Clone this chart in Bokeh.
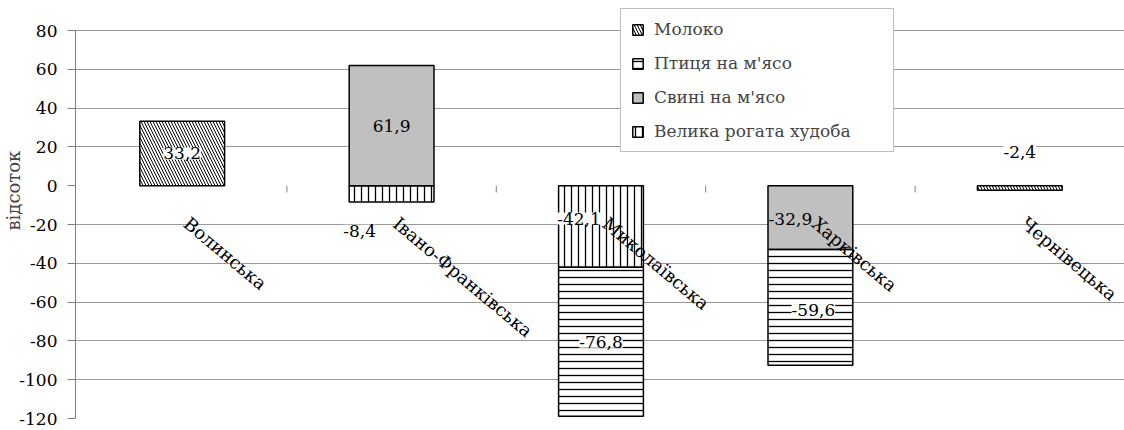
import math
from bokeh.plotting import figure
from bokeh.models import Range1d, FixedTicker, Legend, LegendItem, ColumnDataSource
from bokeh.core.properties import value
from bokeh.embed import file_html
from bokeh.resources import INLINE

# ---------------- data ----------------
regions = ["Волинська", "Івано-Франківська", "Миколаївська", "Харківська", "Чернівецька"]
series_names = ["Велика рогата худоба", "Свині на м'ясо", "Птиця на м'ясо", "Молоко"]  # stacking order
vrh = [0, -8.4, -42.1, 0, 0]          # Велика рогата худоба
svyni = [0, 61.9, 0, -32.9, 0]         # Свині на м'ясо
ptytsia = [0, 0, -76.8, -59.6, 0]      # Птиця на м'ясо
moloko = [33.2, 0, 0, 0, -2.4]         # Молоко
y_ticks = [-120, -100, -80, -60, -40, -20, 0, 20, 40, 60, 80]
legend_order = ["Молоко", "Птиця на м'ясо", "Свині на м'ясо", "Велика рогата худоба"]
y_title = "відсоток"

# ---------------- styles ----------------
FONT = "DejaVu Serif"
FS = "17px"
styles = {
    "Велика рогата худоба": dict(fill_color="white", hatch_pattern="|", hatch_scale=7, hatch_weight=1.3),
    "Свині на м'ясо": dict(fill_color="#c0c0c0", hatch_pattern=None, hatch_scale=7, hatch_weight=1),
    "Птиця на м'ясо": dict(fill_color="white", hatch_pattern="-", hatch_scale=7, hatch_weight=1.3),
    "Молоко": dict(fill_color="white", hatch_pattern="\\", hatch_scale=6, hatch_weight=1),
}
label_offsets = {
    ("Велика рогата худоба", 1): (-32, 37),
    ("Велика рогата худоба", 2): (-22, -8),
    ("Свині на м'ясо", 3): (-20, 1),
    ("Птиця на м'ясо", 3): (3, 3),
    ("Молоко", 4): (0, -36),
}

values = {"Велика рогата худоба": vrh, "Свині на м'ясо": svyni,
          "Птиця на м'ясо": ptytsia, "Молоко": moloko}

W, H = 1124, 430
TOP_PX, BOT_PX = 30, 418          # pixel rows of 80 and -120
FRAME_TOP = 8
k = (BOT_PX - TOP_PX) / (y_ticks[-1] - y_ticks[0])
y_top = y_ticks[-1] + (TOP_PX - FRAME_TOP) / k

p = figure(width=W, height=H, output_backend="svg", toolbar_location=None,
           x_range=Range1d(-0.5095, 4.5), y_range=Range1d(y_ticks[0], y_top),
           min_border_left=73, min_border_right=0, min_border_top=FRAME_TOP,
           min_border_bottom=H - BOT_PX)
p.outline_line_color = None
p.background_fill_color = "white"

pos = [0.0] * len(regions)
neg = [0.0] * len(regions)
renderers = {}
lab_plain = dict(x=[], y=[], text=[], dx=[], dy=[])
lab_white = dict(x=[], y=[], text=[], dx=[], dy=[])
for name in series_names:
    vals = values[name]
    xs, bots, tops = [], [], []
    for i, v in enumerate(vals):
        if v == 0:
            continue
        if v > 0:
            b, t = pos[i], pos[i] + v
            pos[i] = t
        else:
            t, b = neg[i], neg[i] + v
            neg[i] = b
        xs.append(i); bots.append(b); tops.append(t)
        dx, dy = label_offsets.get((name, i), (0, 0))
        tgt = lab_plain if name == "Свині на м'ясо" else lab_white
        tgt["x"].append(i); tgt["y"].append((b + t) / 2)
        tgt["text"].append(f"{v:.1f}".replace(".", ","))
        tgt["dx"].append(dx); tgt["dy"].append(dy)
    st = styles[name]
    kw = dict(fill_color=st["fill_color"], line_color="black", line_width=1.5)
    if st["hatch_pattern"]:
        kw.update(hatch_pattern=st["hatch_pattern"], hatch_scale=st["hatch_scale"],
                  hatch_color="black", hatch_weight=st["hatch_weight"])
    r = p.vbar(x=xs, bottom=bots, top=tops, width=0.405, **kw)
    renderers[name] = r

p.xgrid.visible = False
p.ygrid.ticker = FixedTicker(ticks=[t for t in y_ticks if t != 0])
p.ygrid.grid_line_color = "#999999"
p.ygrid.grid_line_width = 1

p.xaxis.visible = False
p.yaxis.ticker = FixedTicker(ticks=y_ticks)
p.yaxis.major_label_overrides = {t: str(t) for t in y_ticks}
p.yaxis.bounds = (y_ticks[0], y_ticks[-1])
p.yaxis.axis_line_color = "#808080"
p.yaxis.major_tick_line_color = "#808080"
p.yaxis.major_tick_in = 0
p.yaxis.major_tick_out = 8
p.yaxis.minor_tick_line_color = None
p.yaxis.major_label_standoff = 10
p.yaxis.major_label_text_font = FONT
p.yaxis.major_label_text_font_size = FS
p.yaxis.major_label_text_color = "black"
p.yaxis.axis_label = "\u00a0" * 8 + y_title
p.yaxis.axis_label_text_font = FONT
p.yaxis.axis_label_text_font_size = "18px"
p.yaxis.axis_label_text_font_style = "normal"
p.yaxis.axis_label_standoff = -8

bx = [i + 0.5 for i in range(len(regions) - 1)]
p.segment(x0=bx, x1=bx, y0=[0] * len(bx), y1=[-3.5] * len(bx),
          line_color="#808080", line_width=1)

p.text(x=list(range(len(regions))), y=[0] * len(regions), text=regions,
       angle=-40 * math.pi / 180, text_align="left", text_baseline="top",
       x_offset=11, y_offset=27, text_font=value(FONT), text_font_size="18px",
       text_color="black")

src_w = ColumnDataSource(lab_white)
p.text(x="x", y="y", text="text", x_offset="dx", y_offset="dy", source=src_w,
       text_align="center", text_baseline="middle", text_font=value(FONT),
       text_font_size=FS, text_color="black",
       background_fill_color="white", padding=0)
src_p = ColumnDataSource(lab_plain)
p.text(x="x", y="y", text="text", x_offset="dx", y_offset="dy", source=src_p,
       text_align="center", text_baseline="middle", text_font=value(FONT),
       text_font_size=FS, text_color="black")

# legend: frame bottom is at BOT_PX; legend box from ~10 to ~151 px
items = [LegendItem(label=n, renderers=[renderers[n]]) for n in legend_order]
legend = Legend(items=items, location=(545, BOT_PX - 152), orientation="vertical",
                label_text_font=FONT, label_text_font_size=FS,
                glyph_width=13, glyph_height=13, label_height=20, label_standoff=10,
                spacing=14, padding=10, margin=0, label_width=229,
                border_line_color="#808080", border_line_width=1,
                background_fill_color="white", background_fill_alpha=1)
p.add_layout(legend, "center")

open("out.html", "w").write(file_html(p, INLINE))
